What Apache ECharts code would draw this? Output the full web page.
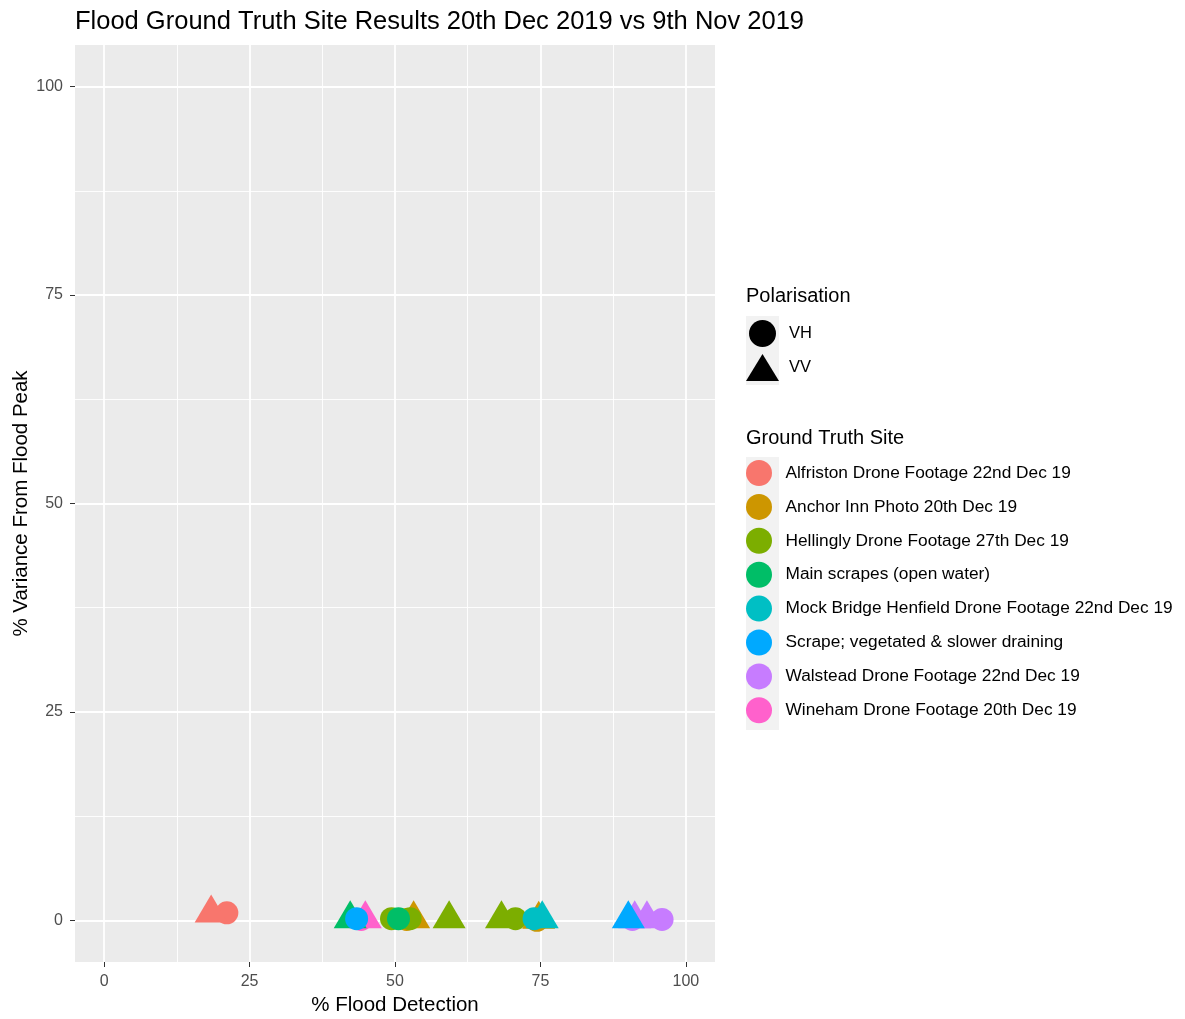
<!DOCTYPE html>
<html>
<head>
<meta charset="utf-8">
<script src="https://cdn.jsdelivr.net/npm/echarts@6/dist/echarts.min.js"></script>
<style>
  html, body { margin: 0; padding: 0; background: #fff; }
  #chartsDiv { width: 1185px; height: 1019px; }
</style>
</head>
<body>
<div id="chartsDiv"></div>
<script>
// site names (legend order)
const siteNames = [
  "Alfriston Drone Footage 22nd Dec 19",
  "Anchor Inn Photo 20th Dec 19",
  "Hellingly Drone Footage 27th Dec 19",
  "Main scrapes (open water)",
  "Mock Bridge Henfield Drone Footage 22nd Dec 19",
  "Scrape; vegetated & slower draining",
  "Walstead Drone Footage 22nd Dec 19",
  "Wineham Drone Footage 20th Dec 19"
];
const siteColors = ["#F8766D", "#CD9600", "#7CAE00", "#00BE67", "#00BFC4", "#00A9FF", "#C77CFF", "#FF61CC"];

// [% flood detection, % variance from flood peak] per site
const vhPoints = [
  [[21.1, 0.9]],
  [[52.0, 0.1], [74.4, 0.0]],
  [[49.4, 0.2], [52.6, 0.2], [70.7, 0.2]],
  [[50.6, 0.2]],
  [[73.9, 0.2]],
  [[43.4, 0.2]],
  [[90.8, 0.1], [95.9, 0.1]],
  [[44.2, 0.1]]
];
const vvPoints = [
  [[18.4, 0.85]],
  [[53.2, 0.15], [74.7, 0.1]],
  [[59.3, 0.15], [68.3, 0.15]],
  [[42.3, 0.15]],
  [[75.3, 0.15]],
  [[90.1, 0.15]],
  [[91.2, 0.15], [93.3, 0.15]],
  [[44.9, 0.15]]
];
// order the sites are drawn in (later on top)
const drawOrder = [1, 2, 7, 6, 0, 4, 3, 5];

const polarisations = ["VH", "VV"];
const xTicks = [0, 25, 50, 75, 100];
const xMinor = [12.5, 37.5, 62.5, 87.5];
const yTicks = [0, 25, 50, 75, 100];
const yMinor = [12.5, 37.5, 62.5, 87.5];

const font = "Liberation Sans, Arial, sans-serif";

let series = drawOrder.map(function (i) {
  const data = [];
  vhPoints[i].forEach(function (p) {
    data.push({ value: p, symbol: "circle", symbolSize: 23, symbolOffset: [0, 0] });
  });
  vvPoints[i].forEach(function (p) {
    data.push({ value: p, symbol: "triangle", symbolSize: [33, 28], symbolOffset: [0, -4.7] });
  });
  return {
    name: siteNames[i],
    type: "scatter",
    xAxisIndex: 0,
    yAxisIndex: 0,
    itemStyle: { color: siteColors[i], opacity: 1 },
    data: data
  };
});
// dummy series for polarisation legend
polarisations.forEach(function (p) {
  series.push({ name: p, type: "scatter", itemStyle: { color: "#000000", opacity: 1 }, data: [] });
});

function mainAxis(ticks, extra) {
  return Object.assign({
    type: "value",
    min: -5,
    max: 105,
    axisLine: { show: false, onZero: false },
    axisTick: { show: true, length: 5, lineStyle: { color: "#333", width: 1 }, customValues: ticks },
    axisLabel: { customValues: ticks, color: "#4D4D4D", fontSize: 16, fontFamily: font },
    splitLine: { show: true, lineStyle: { color: "#FFFFFF", width: 1.8 } },
    nameLocation: "middle",
    nameMoveOverlap: false,
    nameTextStyle: { color: "#000", fontSize: 20.5, fontFamily: font }
  }, extra);
}
function minorAxis(ticks, extra) {
  return Object.assign({
    type: "value",
    min: -5,
    max: 105,
    axisLine: { show: false, onZero: false },
    axisTick: { show: false, customValues: ticks },
    axisLabel: { show: false, customValues: ticks },
    splitLine: { show: true, lineStyle: { color: "#FFFFFF", width: 0.9 } }
  }, extra);
}

let option = {
  animation: false,
  backgroundColor: "#FFFFFF",
  title: [
    { text: "Flood Ground Truth Site Results 20th Dec 2019 vs 9th Nov 2019", left: 75, top: 9, padding: 0,
      textStyle: { fontSize: 25.5, fontWeight: "normal", color: "#000", fontFamily: font } },
    { text: "Polarisation", left: 746, top: 286, padding: 0,
      textStyle: { fontSize: 20, fontWeight: "normal", color: "#000", fontFamily: font } },
    { text: "Ground Truth Site", left: 746, top: 428, padding: 0,
      textStyle: { fontSize: 20, fontWeight: "normal", color: "#000", fontFamily: font } }
  ],
  grid: {
    left: 75, right: 470, top: 45, bottom: 57,
    outerBoundsMode: "none",
    containLabel: false,
    show: true, backgroundColor: "#EBEBEB", borderWidth: 0
  },
  graphic: [
    { type: "rect", left: 746, top: 316, z: 0, shape: { width: 33, height: 69 }, style: { fill: "#F2F2F2" } },
    { type: "rect", left: 746, top: 457, z: 0, shape: { width: 33, height: 273 }, style: { fill: "#F2F2F2" } }
  ],
  legend: [
    {
      data: [{ name: "VH", icon: "circle" }, { name: "VV", icon: "triangle" }],
      orient: "vertical", left: 746, top: 320, padding: 0,
      itemWidth: 33, itemHeight: 27, itemGap: 7,
      selectedMode: false,
      itemStyle: { opacity: 1 },
      textStyle: { fontSize: 16.5, color: "#000", fontFamily: font, padding: [0, 0, 0, 5] }
    },
    {
      data: siteNames.map(function (n) { return { name: n, icon: "circle" }; }),
      orient: "vertical", left: 746, top: 460, padding: 0,
      itemWidth: 33, itemHeight: 26, itemGap: 7.9,
      selectedMode: false,
      itemStyle: { opacity: 1 },
      textStyle: { fontSize: 17.3, color: "#000", fontFamily: font, padding: [0, 0, 0, 5] }
    }
  ],
  xAxis: [
    mainAxis(xTicks, { name: "% Flood Detection", nameGap: 33, axisLabel: { customValues: xTicks, color: "#4D4D4D", fontSize: 16, fontFamily: font, margin: 12 } }),
    minorAxis(xMinor, { position: "bottom" })
  ],
  yAxis: [
    mainAxis(yTicks, { name: "% Variance From Flood Peak", nameGap: 43, axisLabel: { customValues: yTicks, color: "#4D4D4D", fontSize: 16, fontFamily: font, margin: 12 } }),
    minorAxis(yMinor, { position: "left" })
  ],
  series: series
};

let chart = echarts.init(document.getElementById("chartsDiv"));
chart.setOption(option);
</script>
</body>
</html>
